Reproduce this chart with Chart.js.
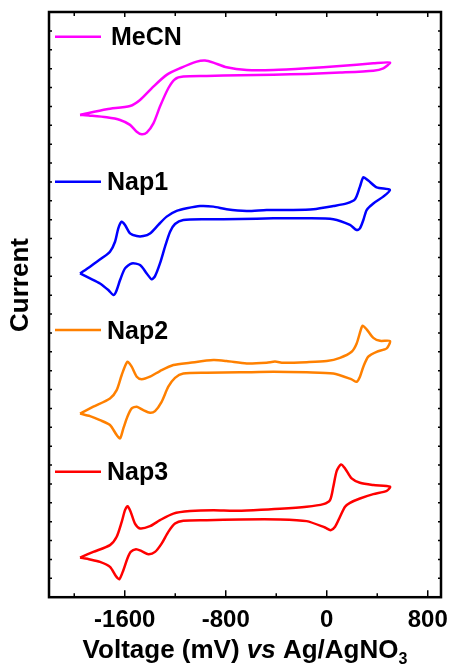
<!DOCTYPE html>
<html>
<head>
<meta charset="utf-8">
<script src="https://cdn.jsdelivr.net/npm/chart.js@4"></script>
<style>
  html, body { margin: 0; padding: 0; background: #fff; }
  #wrap { width: 451px; height: 668px; position: relative; }
</style>
</head>
<body>
<div id="wrap"><canvas id="cvChart"></canvas></div>
<script>
// tick labels on the voltage axis (mV) and minor ticks in between
const voltageTicks = [-1600, -800, 0, 800];
const voltageMinor = [-2000, -1200, -400, 400];

const seriesNames = ['MeCN', 'Nap1', 'Nap2', 'Nap3'];

// cyclic voltammograms (current in arbitrary, offset units)
const mecnV = [-1954, -1743, -1558, -1479, -1373, -1268, -1162, -1030, -964, -898, -793, -634, -423, -159, 105, 369, 501,
  448, 369, 105, -159, -423, -687, -951, -1136, -1202, -1255, -1321, -1373, -1426, -1466, -1505, -1558, -1637, -1743, -1875, -1954];
const mecnI = [25.55, 25.85, 26.02, 26.34, 27.05, 27.67, 28.02, 28.37, 28.43, 28.32, 28.07, 27.93, 27.93, 28.02, 28.14, 28.28, 28.32,
  28.02, 27.89, 27.79, 27.72, 27.68, 27.65, 27.61, 27.58, 27.44, 26.96, 25.99, 25.10, 24.61, 24.52, 24.66, 25.02, 25.28, 25.42, 25.51, 25.55];

const nap1V = [-1954, -1875, -1783, -1717, -1677, -1651, -1624, -1598, -1558, -1505, -1453, -1400, -1334, -1268, -1189, -1109, -1004, -898, -793, -634, -476, -265, -106, 52, 158, 224, 263, 290, 329, 395, 501,
  448, 369, 316, 290, 263, 237, 184, 52, -159, -423, -687, -951, -1136, -1202, -1241, -1281, -1321, -1360, -1387, -1426, -1479, -1545, -1598, -1637, -1669, -1690, -1730, -1796, -1875, -1954];
const nap1I = [17.15, 17.51, 17.95, 18.30, 18.83, 19.54, 19.89, 19.72, 19.27, 19.13, 19.13, 19.27, 19.72, 20.16, 20.46, 20.60, 20.72, 20.69, 20.55, 20.46, 20.51, 20.51, 20.55, 20.72, 20.86, 21.08, 21.75, 22.24, 22.07, 21.71, 21.57,
  21.22, 20.86, 20.51, 19.98, 19.54, 19.45, 19.72, 20.02, 20.07, 20.07, 20.03, 20.02, 19.98, 19.77, 19.36, 18.57, 17.68, 17.01, 16.84, 17.15, 17.60, 17.68, 17.42, 16.80, 16.18, 16.01, 16.27, 16.62, 16.89, 17.15];

const nap2V = [-1954, -1849, -1717, -1664, -1624, -1579, -1545, -1505, -1466, -1400, -1321, -1215, -1083, -898, -793, -634, -476, -410, -344, -159, 0, 105, 197, 237, 269, 284, 316, 369, 422, 501,
  475, 395, 329, 290, 263, 237, 197, 52, -159, -423, -687, -951, -1136, -1202, -1255, -1308, -1360, -1400, -1453, -1505, -1545, -1579, -1611, -1637, -1664, -1717, -1796, -1875, -1954];
const nap2I = [9.73, 10.09, 10.53, 10.97, 11.77, 12.47, 12.21, 11.68, 11.55, 11.68, 11.98, 12.30, 12.42, 12.56, 12.51, 12.38, 12.42, 12.48, 12.42, 12.45, 12.51, 12.68, 13.00, 13.44, 14.15, 14.38, 14.19, 13.74, 13.58, 13.57,
  13.18, 13.00, 12.74, 12.21, 11.68, 11.41, 11.54, 11.85, 11.91, 11.94, 11.91, 11.89, 11.85, 11.62, 11.15, 10.35, 9.86, 9.77, 9.91, 10.09, 10.00, 9.56, 8.94, 8.41, 8.59, 9.12, 9.38, 9.59, 9.73];

const nap3V = [-1954, -1849, -1717, -1664, -1624, -1598, -1577, -1553, -1519, -1479, -1400, -1321, -1215, -1083, -898, -740, -581, -370, -159, -27, 26, 52, 79, 113, 145, 197, 263, 369, 501,
  475, 369, 263, 184, 145, 105, 66, 31, -14, -159, -370, -687, -951, -1136, -1202, -1255, -1308, -1360, -1413, -1466, -1511, -1553, -1579, -1611, -1643, -1669, -1717, -1796, -1875, -1954];
const nap3I = [2.10, 2.40, 2.76, 3.20, 3.99, 4.61, 4.82, 4.52, 3.90, 3.64, 3.76, 4.08, 4.43, 4.56, 4.61, 4.58, 4.61, 4.68, 4.79, 4.93, 5.14, 5.85, 6.69, 7.03, 6.82, 6.29, 6.06, 5.94, 5.85,
  5.63, 5.46, 5.23, 5.00, 4.79, 4.26, 3.73, 3.55, 3.69, 4.03, 4.12, 4.12, 4.08, 4.05, 3.90, 3.46, 2.84, 2.40, 2.28, 2.44, 2.54, 2.40, 2.05, 1.43, 0.95, 1.11, 1.61, 1.87, 2.00, 2.10];

// where each legend sample sits (current units)
const legendLevels = [29.69, 22.01, 14.15, 6.64];

const seriesColors = ['#ff00ff', '#0000ff', '#ff8000', '#ff0000'];
const FONT = '"Liberation Sans", Arial, sans-serif';

function toPoints(xs, ys) {
    return xs.map((x, i) => ({ x: x, y: ys[i] }));
}

const allSeries = [[mecnV, mecnI], [nap1V, nap1I], [nap2V, nap2I], [nap3V, nap3I]];

// marco, ticks hacia dentro, leyenda y títulos
const framePlugin = {
    id: 'framePlugin',
    afterDraw(chart) {
        const ctx = chart.ctx;
        const a = chart.chartArea;
        const xs = chart.scales.x;
        const ys = chart.scales.y;
        ctx.save();
        ctx.strokeStyle = '#000';
        ctx.lineWidth = 1.5;
        voltageTicks.forEach(v => {
            const px = xs.getPixelForValue(v);
            ctx.beginPath();
            ctx.moveTo(px, a.bottom); ctx.lineTo(px, a.bottom - 7);
            ctx.moveTo(px, a.top); ctx.lineTo(px, a.top + 5);
            ctx.stroke();
        });
        voltageMinor.forEach(v => {
            const px = xs.getPixelForValue(v);
            ctx.beginPath();
            ctx.moveTo(px, a.bottom); ctx.lineTo(px, a.bottom - 4);
            ctx.moveTo(px, a.top); ctx.lineTo(px, a.top + 4);
            ctx.stroke();
        });
        for (let v = ys.min; v <= ys.max; v++) {
            const py = ys.getPixelForValue(v);
            ctx.beginPath();
            ctx.moveTo(a.left, py); ctx.lineTo(a.left + 3, py);
            ctx.moveTo(a.right, py); ctx.lineTo(a.right - 3, py);
            ctx.stroke();
        }
        ctx.lineWidth = 2.5;
        ctx.strokeRect(a.left, a.top, a.right - a.left, a.bottom - a.top);

        // leyenda
        seriesNames.forEach((name, i) => {
            const py = ys.getPixelForValue(legendLevels[i]);
            ctx.strokeStyle = seriesColors[i];
            ctx.lineWidth = 2.5;
            ctx.beginPath();
            ctx.moveTo(a.left + 6, py);
            ctx.lineTo(a.left + 52, py);
            ctx.stroke();
            ctx.fillStyle = '#000';
            ctx.font = 'bold 25px ' + FONT;
            ctx.textBaseline = 'alphabetic';
            ctx.textAlign = 'left';
            ctx.fillText(name, a.left + (i === 0 ? 62 : 58), py + 8.5);
        });

        // título eje X: Voltage (mV) vs Ag/AgNO3
        const parts = [
            { t: 'Voltage (mV) ', f: 'bold 26px ' + FONT, dy: 0 },
            { t: 'vs', f: 'italic bold 26px ' + FONT, dy: 0 },
            { t: ' Ag/AgNO', f: 'bold 26px ' + FONT, dy: 0 },
            { t: '3', f: 'bold 16px ' + FONT, dy: 6 }
        ];
        let total = 0;
        parts.forEach(p => { ctx.font = p.f; p.w = ctx.measureText(p.t).width; total += p.w; });
        let x0 = (a.left + a.right) / 2 - total / 2;
        const base = 658;
        parts.forEach(p => {
            ctx.font = p.f;
            ctx.fillText(p.t, x0, base + p.dy);
            x0 += p.w;
        });

        // título eje Y
        ctx.translate(28, 285);
        ctx.rotate(-Math.PI / 2);
        ctx.font = 'bold 26px ' + FONT;
        ctx.textAlign = 'center';
        ctx.fillText('Current', 0, 0);
        ctx.restore();
    }
};

document.addEventListener('DOMContentLoaded', function() {
    const ctx = document.getElementById('cvChart').getContext('2d');
    new Chart(ctx, {
        type: 'scatter',
        data: {
            datasets: allSeries.map((s, i) => ({
                label: seriesNames[i],
                data: toPoints(s[0], s[1]),
                showLine: true,
                borderColor: seriesColors[i],
                borderWidth: 2.5,
                pointRadius: 0,
                tension: 0.25,
                fill: false
            }))
        },
        options: {
            responsive: true,
            maintainAspectRatio: false,
            animation: false,
            layout: { padding: { left: 49, right: 10, top: 12, bottom: 24 } },
            plugins: {
                legend: { display: false },
                tooltip: { enabled: false }
            },
            scales: {
                x: {
                    type: 'linear',
                    min: -2200,
                    max: 905,
                    grid: { display: false, drawTicks: false },
                    border: { display: false },
                    afterBuildTicks: scale => { scale.ticks = voltageTicks.map(v => ({ value: v })); },
                    afterFit: scale => { scale.paddingLeft = 0; scale.paddingRight = 0; },
                    ticks: {
                        padding: 9,
                        color: '#000',
                        maxRotation: 0,
                        callback: v => String(v),
                        font: { family: FONT, size: 24, weight: 'bold' }
                    }
                },
                y: {
                    type: 'linear',
                    display: false,
                    min: 0,
                    max: 31
                }
            }
        },
        plugins: [framePlugin]
    });
});
</script>
</body>
</html>
